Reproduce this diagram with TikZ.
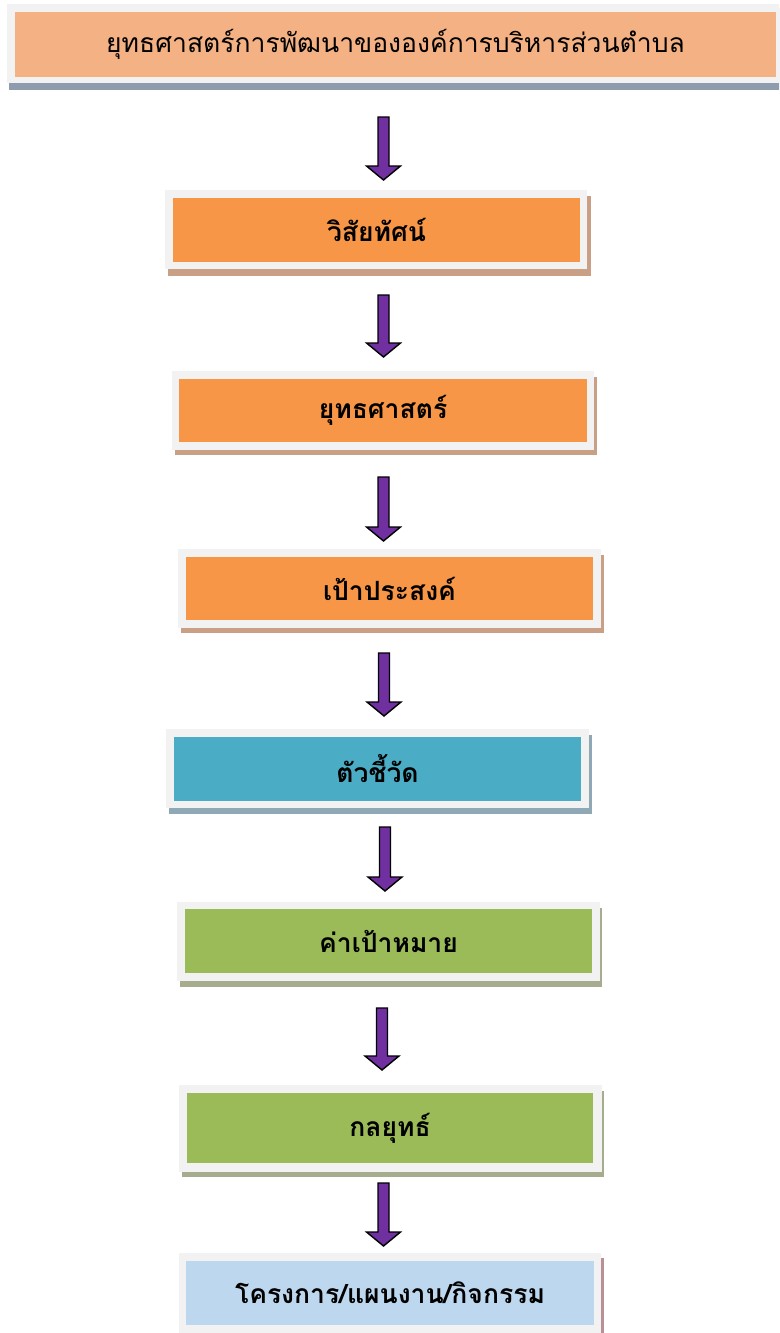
\documentclass[tikz,border=0pt]{standalone}
\usepackage{fontspec}
\newfontfamily\thaifont[Script=Thai]{Loma}
\usetikzlibrary{calc}
\definecolor{frameg}{HTML}{F2F2F2}
\definecolor{topfill}{HTML}{F4B183}
\definecolor{topshadow}{HTML}{8E9CAD}
\definecolor{orfill}{HTML}{F79646}
\definecolor{orshadow}{HTML}{C9A085}
\definecolor{blfill}{HTML}{4BACC6}
\definecolor{blshadow}{HTML}{8FA8B5}
\definecolor{grfill}{HTML}{9BBB59}
\definecolor{grshadow}{HTML}{A6AD8F}
\definecolor{ltfill}{HTML}{BDD7EE}
\definecolor{ltshadow}{HTML}{B89095}
\definecolor{arrowpurple}{HTML}{7030A0}
\tikzset{
  innerbox/.style={rectangle, inner sep=0pt, font=\thaifont\bfseries\fontsize{26.5}{30}\selectfont, text=black},
  framebox/.style={fill=frameg},
  bigarrow/.style={fill=arrowpurple, draw=black, line width=1.4pt, line join=miter},
}
\newcommand{\fatarrow}[2]{%
  \draw[bigarrow] let \p1=(#1), \p2=(#2) in
    (\x1-5.5pt,\y1) -- (\x1+5.5pt,\y1) -- (\x1+5.5pt,\y2+14pt) -- (\x1+17pt,\y2+14pt)
    -- (\x2,\y2) -- (\x1-17pt,\y2+14pt) -- (\x1-5.5pt,\y2+14pt) -- cycle;}
\begin{document}
\begin{tikzpicture}[x=1pt,y=-1pt]
\useasboundingbox (0,0) rectangle (779,1333);
\clip (0,0) rectangle (779,1333);
% top box
\fill[topshadow] (9,8) rectangle (781,90);
\fill[framebox] (7,4) rectangle (781,83);
\node[innerbox, fill=topfill, minimum width=761pt, minimum height=65pt, font=\thaifont\fontsize{26.5}{30}\selectfont] (b1) at (395.5,44.5) {ยุทธศาสตร์การพัฒนาขององค์การบริหารส่วนตำบล};
% box 2
\fill[orshadow] (168,196) rectangle (591,276);
\fill[framebox] (165,190) rectangle (587,269);
\node[innerbox, fill=orfill, minimum width=407pt, minimum height=64pt] (b2) at (376.5,230) {วิสัยทัศน์};
% box 3
\fill[orshadow] (175,377) rectangle (597,455);
\fill[framebox] (172,371) rectangle (594,450);
\node[innerbox, fill=orfill, minimum width=408pt, minimum height=63pt] (b3) at (383,410.5) {ยุทธศาสตร์};
% box 4
\fill[orshadow] (181,555) rectangle (604,633);
\fill[framebox] (178,549) rectangle (601,628);
\node[innerbox, fill=orfill, minimum width=407pt, minimum height=63pt] (b4) at (389.5,588.5) {เป้าประสงค์};
% box 5
\fill[blshadow] (169,735) rectangle (592,814);
\fill[framebox] (166,729) rectangle (589,808);
\node[innerbox, fill=blfill, minimum width=407pt, minimum height=64pt] (b5) at (377.5,769) {ตัวชี้วัด};
% box 6
\fill[grshadow] (180,908) rectangle (602,987);
\fill[framebox] (177,902) rectangle (600,981);
\node[innerbox, fill=grfill, minimum width=407pt, minimum height=64pt] (b6) at (388.5,941) {ค่าเป้าหมาย};
% box 7
\fill[grshadow] (182,1091) rectangle (604,1177);
\fill[framebox] (179,1085) rectangle (602,1172);
\node[innerbox, fill=grfill, minimum width=406pt, minimum height=70pt] (b7) at (390,1128) {กลยุทธ์};
% box 8
\fill[ltshadow] (182,1258) rectangle (603.5,1345);
\fill[framebox] (179,1253) rectangle (601,1340);
\node[innerbox, fill=ltfill, minimum width=408pt, minimum height=64pt] (b8) at (390,1293) {โครงการ/แผนงาน/กิจกรรม};
% arrows
\coordinate (s1) at (383.5,117); \coordinate (e1) at (383.5,180);
\coordinate (s2) at (383.5,295); \coordinate (e2) at (383.5,357);
\coordinate (s3) at (383.5,477); \coordinate (e3) at (383.5,541);
\coordinate (s4) at (384,653);   \coordinate (e4) at (384,716);
\coordinate (s5) at (385,827);   \coordinate (e5) at (385,891);
\coordinate (s6) at (382,1008);  \coordinate (e6) at (382,1070);
\coordinate (s7) at (383.5,1183); \coordinate (e7) at (383.5,1246);
\foreach \i in {1,...,7} {\fatarrow{s\i}{e\i}}
\end{tikzpicture}
\end{document}
